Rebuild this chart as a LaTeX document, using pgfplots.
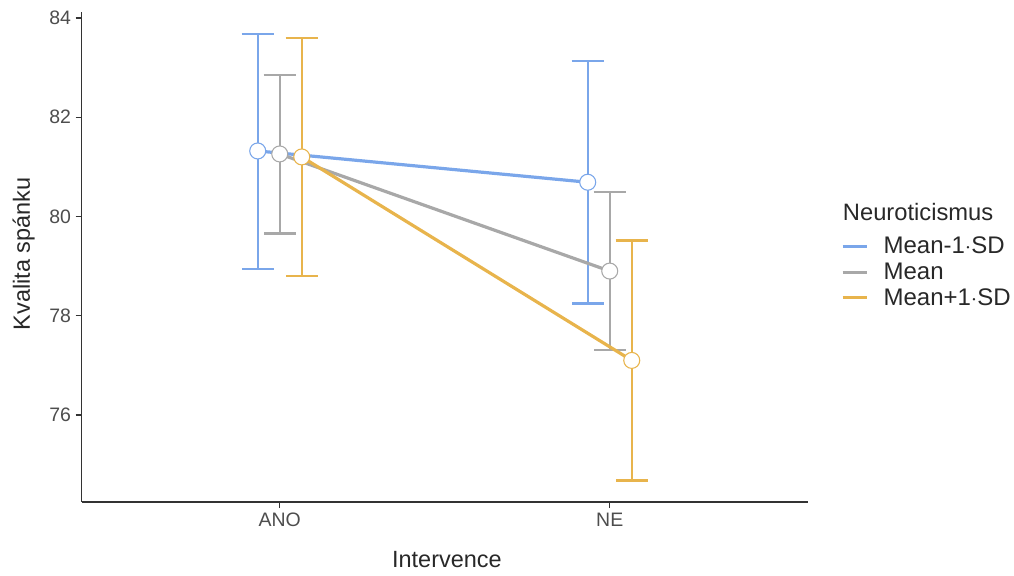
\documentclass[border=0pt]{standalone}
\usepackage{pgfplots}
\pgfplotsset{compat=1.18}
\usepackage{fontspec}
\setmainfont{Liberation Sans}
\definecolor{cblue}{RGB}{122,166,234}
\definecolor{cgrey}{RGB}{168,168,168}
\definecolor{corange}{RGB}{232,180,76}
\definecolor{tickc}{RGB}{77,77,77}
\definecolor{titc}{RGB}{40,40,40}
\begin{document}
\begin{tikzpicture}
\path (0,0) rectangle (760.5pt,431.25pt);
\begin{axis}[
  at={(61.3pt,54.75pt)}, anchor=south west,
  scale only axis, width=544.5pt, height=367.5pt,
  xmin=0.4, xmax=2.6, ymin=74.247, ymax=84.12,
  axis x line*=bottom, axis y line*=left,
  axis line style={line width=1pt, color=black!80, -},
  xtick={1,2}, xticklabels={ANO,NE},
  ytick={76,78,80,82,84},
  tick align=outside, major tick length=4.5pt,
  tick style={line width=1pt, color=black!80},
  /pgf/number format/assume math mode=true,
  tick label style={font=\fontsize{14.6}{16}\selectfont, color=tickc},
  xlabel={Intervence}, ylabel={Kvalita spánku},
  label style={font=\fontsize{17.6}{20}\selectfont, color=titc},
  xlabel style={at={(axis description cs:0.503,-0.118)}, anchor=center},
  ylabel style={at={(axis description cs:-0.08,0.506)}, anchor=center, rotate=0},
  clip=false,
  legend style={draw=none, fill=none, at={(rel axis cs:1.0455,0.545)}, anchor=north west,
    font=\fontsize{18}{19.5}\selectfont, text=titc, inner sep=0pt,
    nodes={inner sep=1.5pt}, row sep=2.25pt,
    /tikz/every odd column/.append style={column sep=10pt}},
  legend cell align=left,
  legend image code/.code={\draw[#1] (0pt,0pt) -- (18pt,0pt);},
]
% legend images
\addlegendimage{cblue, line width=2.4pt}
\addlegendentry{Mean-1$\cdot$SD}
\addlegendimage{cgrey, line width=2.4pt}
\addlegendentry{Mean}
\addlegendimage{corange, line width=2.4pt}
\addlegendentry{Mean+1$\cdot$SD}
% error bars
\addplot[cblue, line width=1.8pt, only marks, mark=none, forget plot, error bars/.cd, y dir=both, y explicit,
  error bar style={cblue, line width=1.8pt}, error mark options={rotate=90, cblue, mark size=12pt, line width=1.8pt}]
  coordinates {(0.9333,81.32) += (0,2.36) -= (0,2.38)
               (1.9333,80.69) += (0,2.44) -= (0,2.44)};
\addplot[cgrey, line width=1.8pt, only marks, mark=none, forget plot, error bars/.cd, y dir=both, y explicit,
  error bar style={cgrey, line width=1.8pt}, error mark options={rotate=90, cgrey, mark size=12pt, line width=1.8pt}]
  coordinates {(1,81.26) += (0,1.59) -= (0,1.60)
               (2,78.90) += (0,1.59) -= (0,1.59)};
\addplot[corange, line width=1.8pt, only marks, mark=none, forget plot, error bars/.cd, y dir=both, y explicit,
  error bar style={corange, line width=1.8pt}, error mark options={rotate=90, corange, mark size=12pt, line width=1.8pt}]
  coordinates {(1.0667,81.20) += (0,2.40) -= (0,2.40)
               (2.0667,77.10) += (0,2.42) -= (0,2.42)};
% lines
\addplot[cblue, line width=2.4pt, forget plot] coordinates {(0.9333,81.32) (1.9333,80.69)};
\addplot[cgrey, line width=2.4pt, forget plot] coordinates {(1,81.26) (2,78.90)};
\addplot[corange, line width=2.4pt, forget plot] coordinates {(1.0667,81.20) (2.0667,77.10)};
% points
\addplot[only marks, mark=*, mark size=6pt, mark options={fill=white, draw=cblue, line width=0.8pt}, forget plot]
  coordinates {(0.9333,81.32) (1.9333,80.69)};
\addplot[only marks, mark=*, mark size=6pt, mark options={fill=white, draw=cgrey, line width=0.8pt}, forget plot]
  coordinates {(1,81.26) (2,78.90)};
\addplot[only marks, mark=*, mark size=6pt, mark options={fill=white, draw=corange, line width=0.8pt}, forget plot]
  coordinates {(1.0667,81.20) (2.0667,77.10)};
\end{axis}
\node[anchor=west, font=\fontsize{17.8}{20}\selectfont, text=titc, inner sep=0pt] at (632pt,272.25pt) {Neuroticismus};
\end{tikzpicture}
\end{document}
